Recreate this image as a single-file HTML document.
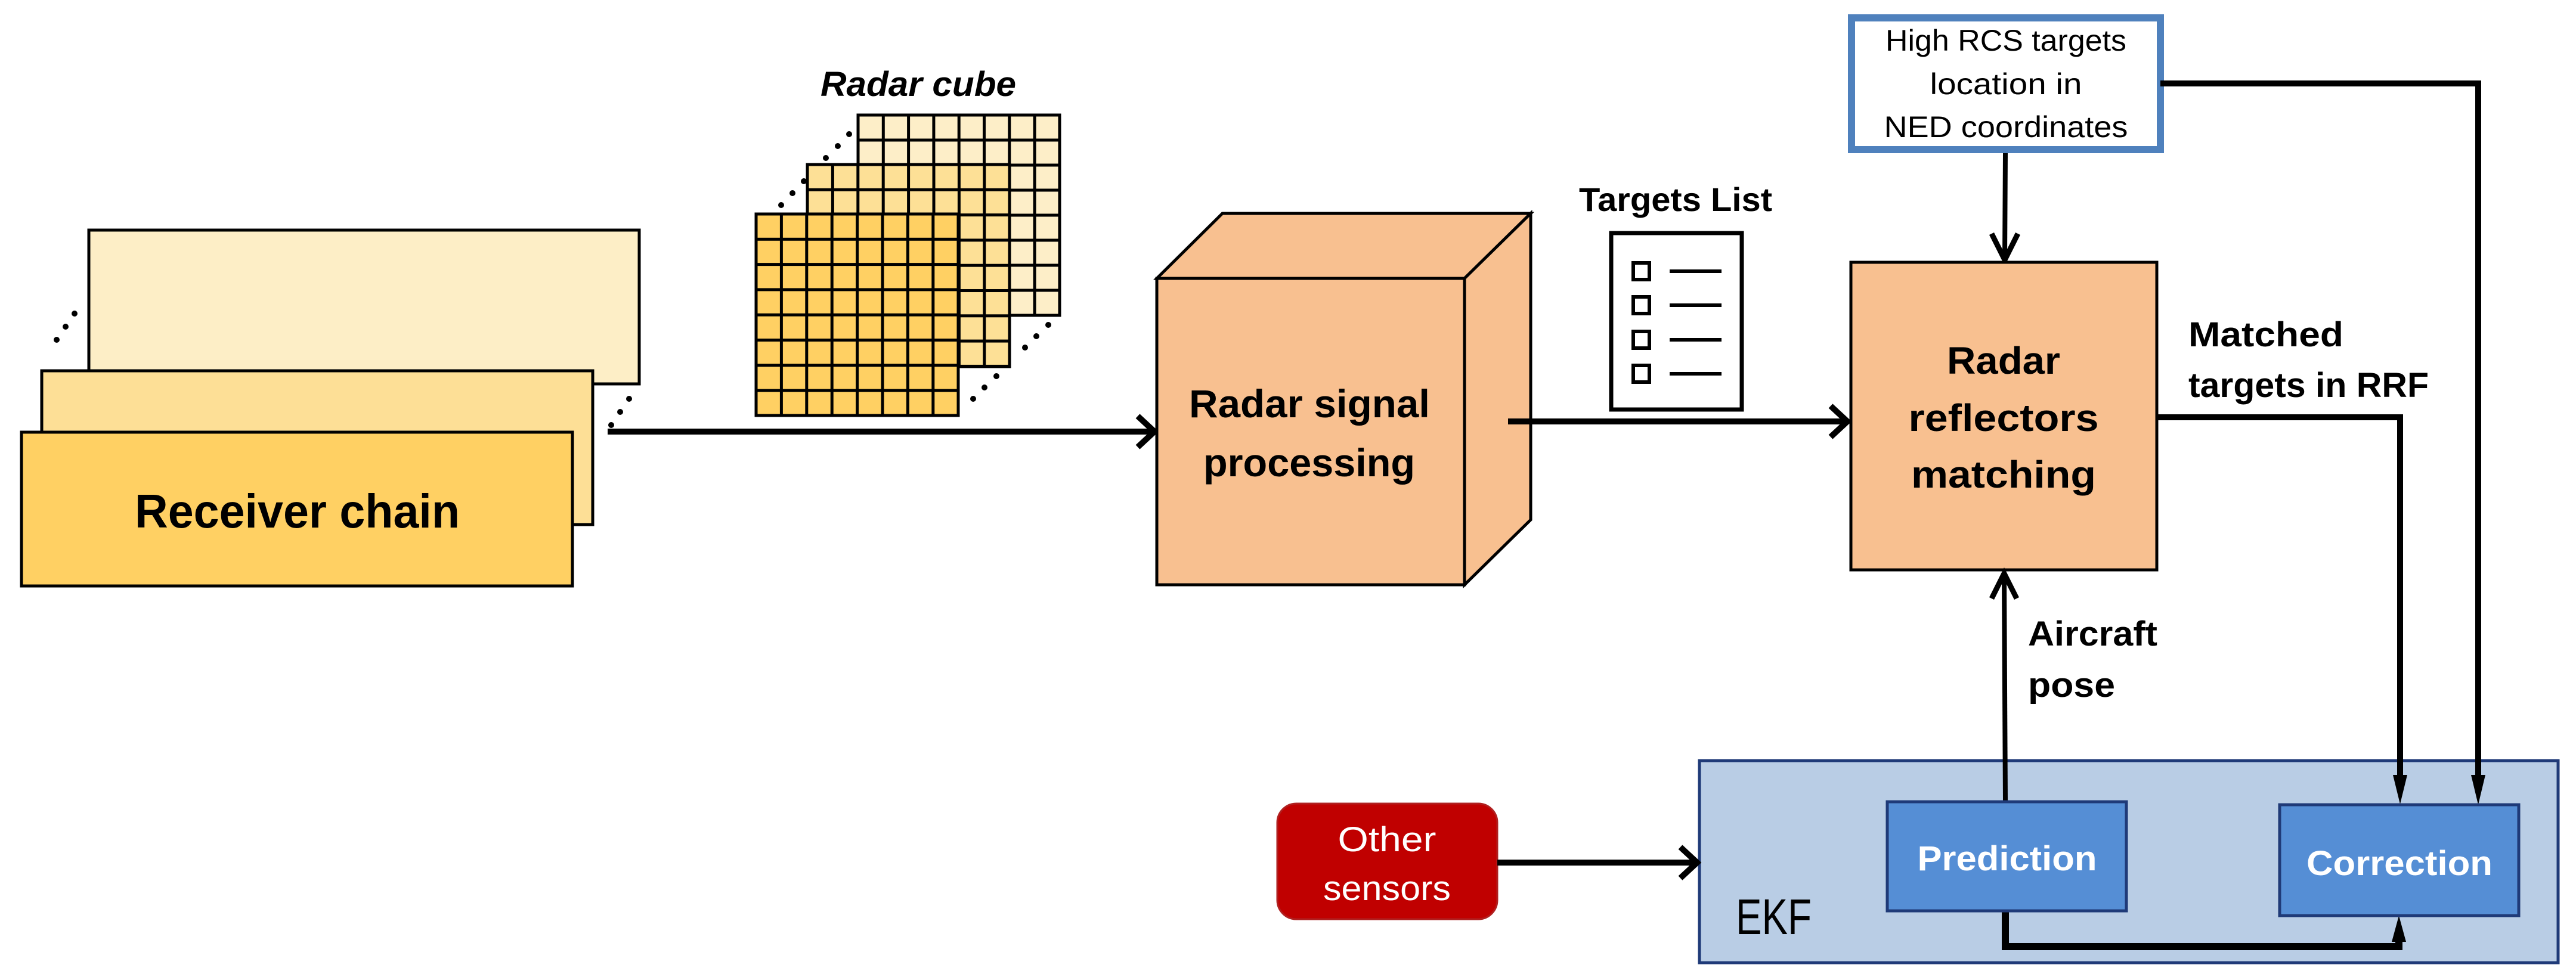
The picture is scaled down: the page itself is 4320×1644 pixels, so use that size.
<!DOCTYPE html>
<html><head><meta charset="utf-8"><style>html,body{margin:0;padding:0;background:#fff}svg{display:block}</style></head>
<body>
<svg width="4320" height="1644" viewBox="0 0 4320 1644" xmlns="http://www.w3.org/2000/svg">
<defs>
<pattern id="g1" x="1268" y="359" width="42.4" height="42.3" patternUnits="userSpaceOnUse"><rect width="42.4" height="42.3" fill="#ffd063" stroke="#000" stroke-width="5"/></pattern>
<pattern id="g2" x="1354" y="276" width="42.4" height="42.3" patternUnits="userSpaceOnUse"><rect width="42.4" height="42.3" fill="#fde096" stroke="#000" stroke-width="5"/></pattern>
<pattern id="g3" x="1439" y="193" width="42.3" height="42" patternUnits="userSpaceOnUse"><rect width="42.3" height="42" fill="#fdeec8" stroke="#000" stroke-width="5"/></pattern>
</defs>
<g font-family="Liberation Sans, sans-serif">
<!-- Receiver chain stack -->
<rect x="149" y="386" width="923" height="258" fill="#fdeec6" stroke="#000" stroke-width="5"/>
<rect x="70" y="622" width="924" height="258" fill="#fddf96" stroke="#000" stroke-width="5"/>
<rect x="36" y="725" width="924" height="258" fill="#ffd063" stroke="#000" stroke-width="5"/>
<text x="226" y="885" font-size="80" font-weight="bold" textLength="545" lengthAdjust="spacingAndGlyphs">Receiver chain</text>
<g fill="#000"><circle cx="125" cy="526" r="5"/><circle cx="110" cy="548" r="5"/><circle cx="95" cy="570" r="5"/>
<circle cx="1055" cy="669" r="5"/><circle cx="1040" cy="691" r="5"/><circle cx="1025" cy="713" r="5"/></g>
<!-- Radar cube -->
<text x="1376" y="161" font-size="58" font-weight="bold" font-style="italic" textLength="328" lengthAdjust="spacingAndGlyphs">Radar cube</text>
<rect x="1439" y="193" width="338" height="336" fill="url(#g3)" stroke="#000" stroke-width="5"/>
<rect x="1354" y="276" width="339" height="339" fill="url(#g2)" stroke="#000" stroke-width="5"/>
<rect x="1268" y="359" width="339" height="338" fill="url(#g1)" stroke="#000" stroke-width="5"/>
<g fill="#000"><circle cx="1424" cy="225" r="5"/><circle cx="1405" cy="245" r="5"/><circle cx="1385" cy="265" r="5"/>
<circle cx="1348" cy="304" r="5"/><circle cx="1329" cy="324" r="5"/><circle cx="1310" cy="344" r="5"/>
<circle cx="1758" cy="545" r="5"/><circle cx="1738" cy="564" r="5"/><circle cx="1719" cy="583" r="5"/>
<circle cx="1671" cy="631" r="5"/><circle cx="1651" cy="650" r="5"/><circle cx="1632" cy="669" r="5"/></g>
<!-- arrow to RSP -->
<line x1="1019" y1="724" x2="1932" y2="724" stroke="#000" stroke-width="10"/>
<polyline points="1908,698 1936,724 1908,750" fill="none" stroke="#000" stroke-width="10"/>
<!-- RSP box -->
<polygon points="1940,467 2050,358 2567,358 2456,467" fill="#f8c090" stroke="#000" stroke-width="5"/>
<polygon points="2456,467 2567,358 2567,872 2456,981" fill="#f8c090" stroke="#000" stroke-width="5"/>
<rect x="1940" y="467" width="516" height="514" fill="#f8c090" stroke="#000" stroke-width="5"/>
<text x="1994" y="700" font-size="66" font-weight="bold" textLength="404" lengthAdjust="spacingAndGlyphs">Radar signal</text>
<text x="2018" y="799" font-size="66" font-weight="bold" textLength="355" lengthAdjust="spacingAndGlyphs">processing</text>
<!-- Targets list -->
<text x="2648" y="354" font-size="56" font-weight="bold" textLength="324" lengthAdjust="spacingAndGlyphs">Targets List</text>
<rect x="2702" y="391" width="219" height="296" fill="#fff" stroke="#000" stroke-width="7"/>
<g fill="none" stroke="#000" stroke-width="6">
<rect x="2739" y="441" width="27" height="28"/><rect x="2739" y="498" width="27" height="28"/><rect x="2739" y="556" width="27" height="28"/><rect x="2739" y="613" width="27" height="28"/>
<line x1="2800" y1="455" x2="2887" y2="455"/><line x1="2800" y1="512" x2="2887" y2="512"/><line x1="2800" y1="570" x2="2887" y2="570"/><line x1="2800" y1="627" x2="2887" y2="627"/></g>
<!-- arrow RSP -> RRM -->
<line x1="2529" y1="707" x2="3095" y2="707" stroke="#000" stroke-width="10"/>
<polyline points="3070,681 3098,707 3070,733" fill="none" stroke="#000" stroke-width="10"/>
<!-- HRCS box -->
<rect x="3105" y="30" width="518" height="221" fill="#fff" stroke="#4f81bd" stroke-width="12"/>
<text x="3364" y="85" font-size="50" text-anchor="middle" textLength="404" lengthAdjust="spacingAndGlyphs">High RCS targets</text>
<text x="3364" y="158" font-size="50" text-anchor="middle" textLength="255" lengthAdjust="spacingAndGlyphs">location in</text>
<text x="3364" y="230" font-size="50" text-anchor="middle" textLength="409" lengthAdjust="spacingAndGlyphs">NED coordinates</text>
<line x1="3363" y1="257" x2="3362" y2="436" stroke="#000" stroke-width="8"/>
<polyline points="3340,392 3362,436 3384,392" fill="none" stroke="#000" stroke-width="9"/>
<!-- RRM box -->
<rect x="3104" y="440" width="513" height="516" fill="#f8c090" stroke="#000" stroke-width="5"/>
<text x="3360" y="627" font-size="64" font-weight="bold" text-anchor="middle" textLength="190" lengthAdjust="spacingAndGlyphs">Radar</text>
<text x="3360" y="723" font-size="64" font-weight="bold" text-anchor="middle" textLength="319" lengthAdjust="spacingAndGlyphs">reflectors</text>
<text x="3360" y="818" font-size="64" font-weight="bold" text-anchor="middle" textLength="310" lengthAdjust="spacingAndGlyphs">matching</text>
<!-- Matched -->
<text x="3670" y="581" font-size="58" font-weight="bold" textLength="260" lengthAdjust="spacingAndGlyphs">Matched</text>
<text x="3670" y="666" font-size="58" font-weight="bold" textLength="403" lengthAdjust="spacingAndGlyphs">targets in RRF</text>
<!-- Aircraft pose text -->
<text x="3401" y="1083" font-size="58" font-weight="bold" textLength="217" lengthAdjust="spacingAndGlyphs">Aircraft</text>
<text x="3401" y="1169" font-size="58" font-weight="bold" textLength="146" lengthAdjust="spacingAndGlyphs">pose</text>
<!-- EKF -->
<rect x="2850" y="1276" width="1440" height="339" fill="#b9cde5" stroke="#1f3a78" stroke-width="5"/>
<text x="2911" y="1567" font-size="84" textLength="127" lengthAdjust="spacingAndGlyphs">EKF</text>
<!-- connectors over EKF -->
<polyline points="3623,140 4156,140 4156,1310" fill="none" stroke="#000" stroke-width="10"/>
<polygon points="4144,1300 4168,1300 4156,1350" fill="#000"/>
<polyline points="3617,700 4025,700 4025,1310" fill="none" stroke="#000" stroke-width="10"/>
<polygon points="4013,1300 4037,1300 4025,1349" fill="#000"/>
<line x1="3363" y1="1345" x2="3361" y2="962" stroke="#000" stroke-width="8"/>
<polyline points="3340,1004 3361,962 3382,1004" fill="none" stroke="#000" stroke-width="9"/>
<polyline points="3363,1528 3363,1588 4023,1588 4023,1570" fill="none" stroke="#000" stroke-width="12"/>
<polygon points="4011,1580 4035,1580 4023,1536" fill="#000"/>
<rect x="3165" y="1345" width="401" height="183" fill="#558ed5" stroke="#1f3a78" stroke-width="5"/>
<text x="3366" y="1460" font-size="58" font-weight="bold" fill="#fff" text-anchor="middle" textLength="301" lengthAdjust="spacingAndGlyphs">Prediction</text>
<rect x="3823" y="1350" width="401" height="186" fill="#558ed5" stroke="#1f3a78" stroke-width="5"/>
<text x="4024" y="1468" font-size="58" font-weight="bold" fill="#fff" text-anchor="middle" textLength="312" lengthAdjust="spacingAndGlyphs">Correction</text>
<!-- Other sensors -->
<rect x="2142" y="1348" width="369" height="194" rx="32" fill="#c00000" stroke="#b02020" stroke-width="3"/>
<text x="2326" y="1428" font-size="58" fill="#fff" text-anchor="middle" textLength="165" lengthAdjust="spacingAndGlyphs">Other</text>
<text x="2326" y="1510" font-size="58" fill="#fff" text-anchor="middle" textLength="214" lengthAdjust="spacingAndGlyphs">sensors</text>
<line x1="2511" y1="1447" x2="2842" y2="1447" stroke="#000" stroke-width="10"/>
<polyline points="2818,1421 2846,1447 2818,1473" fill="none" stroke="#000" stroke-width="10"/>
</g>
</svg>
</body></html>
